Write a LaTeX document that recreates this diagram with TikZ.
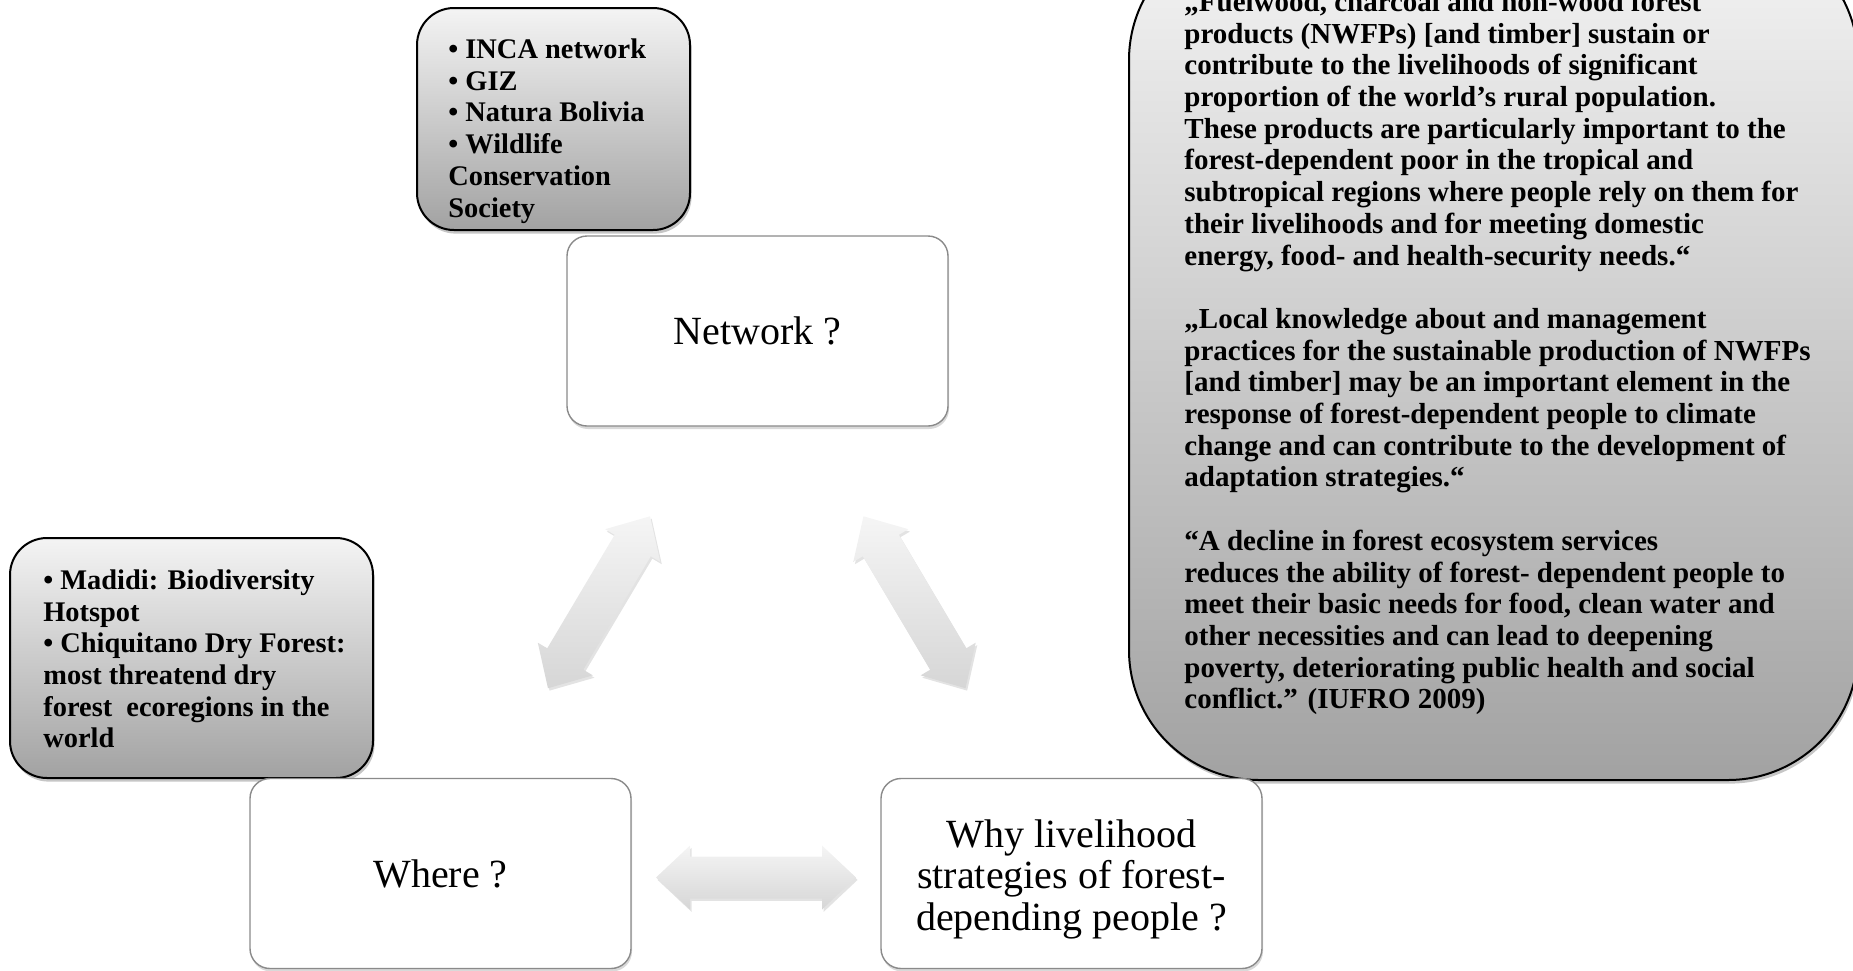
\documentclass[tikz,border=0pt]{standalone}
\usepackage{fontspec}
\setmainfont{Liberation Serif}
\usetikzlibrary{shadows,calc}
\definecolor{cTop}{HTML}{F4F4F4}
\definecolor{cBot}{HTML}{A2A2A2}
\definecolor{aTop}{HTML}{F5F5F5}
\definecolor{aBot}{HTML}{D6D6D6}
\definecolor{boxline}{HTML}{8A8A8A}
\begin{document}
\begin{tikzpicture}[x=0.5pt,y=-0.5pt,
  callout/.style={draw=black, line width=1pt, top color=cTop, bottom color=cBot,
    inner sep=0pt, drop shadow={opacity=0.45, shadow xshift=0.8pt, shadow yshift=-1.8pt}},
  mainbox/.style={draw=boxline, line width=0.7pt, fill=white, rounded corners=10pt,
    minimum width=190.5pt, minimum height=95pt, inner sep=0pt, align=center,
    font=\fontsize{20}{20.75}\selectfont,
    drop shadow={opacity=0.3, shadow xshift=0.5pt, shadow yshift=-1.5pt}},
  callouttext/.style={anchor=west, align=left, inner sep=0pt,
    font=\bfseries\fontsize{14.2}{15.85}\selectfont},
  dblarrow/.style={top color=aTop, bottom color=aBot, draw=none,
    drop shadow={opacity=0.22, shadow xshift=0.8pt, shadow yshift=-1.2pt}}
]
\useasboundingbox (0,0) rectangle (1853,970);

% callout boxes
\node[callout, rounded corners=65pt, minimum width=364.5pt, minimum height=425pt] (quotes) at (1493.5,355) {};
\node[callout, rounded corners=18.5pt, minimum width=136.5pt, minimum height=111pt] (netinfo) at (553.5,119) {};
\node[callout, rounded corners=18.5pt, minimum width=181.5pt, minimum height=120pt] (whereinfo) at (191.5,658) {};

\node[callouttext, font=\bfseries\fontsize{14.5}{15.85}\selectfont] (quotestext) at (1184,353) {„Fuelwood, charcoal and non-wood forest\\
products (NWFPs) [and timber] sustain or\\
contribute to the livelihoods of significant\\
proportion of the world’s rural population.\\
These products are particularly important to the\\
forest-dependent poor in the tropical and\\
subtropical regions where people rely on them for\\
their livelihoods and for meeting domestic\\
energy, food- and health-security needs.“\\
\mbox{}\\
„Local knowledge about and management\\
practices for the sustainable production of NWFPs\\
{[}and timber] may be an important element in the\\
response of forest-dependent people to climate\\
change and can contribute to the development of\\
adaptation strategies.“\\
\mbox{}\\
“A decline in forest ecosystem services\\
reduces the ability of forest- dependent people to\\
meet their basic needs for food, clean water and\\
other necessities and can lead to deepening\\
poverty, deteriorating public health and social\\
conflict.” (IUFRO 2009)};

\node[callouttext] (netinfotext) at (448,131) {• INCA network\\
• GIZ\\
• Natura Bolivia\\
• Wildlife\\
Conservation\\
Society};

\node[callouttext] (whereinfotext) at (43,659) {• Madidi: Biodiversity\\
Hotspot\\
• Chiquitano Dry Forest:\\
most threatend dry\\
forest\ \ ecoregions in the\\
world};

% main boxes
\node[mainbox] (netw) at (757.5,331) {Network ?};
\node[mainbox] (where) at (440.5,873.5) {Where ?};
\node[mainbox] (why) at (1071.5,873.5) {\raisebox{-3.5pt}[\height][\depth]{\begin{tabular}{@{}c@{}}Why livelihood\\strategies of forest-\\depending people ?\end{tabular}}};

% double arrows between the main boxes
\begin{scope}[shift={($(where)!0.5!(netw)$)}, rotate=59.3]
  \path[dblarrow] (100,0) -- (66,32) -- (66,21) -- (-66,21) -- (-66,32) -- (-100,0)
    -- (-66,-32) -- (-66,-21) -- (66,-21) -- (66,-32) -- cycle;
\end{scope}
\begin{scope}[shift={($(why)!0.5!(netw)$)}, rotate=-59.3]
  \path[dblarrow] (100,0) -- (66,32) -- (66,21) -- (-66,21) -- (-66,32) -- (-100,0)
    -- (-66,-32) -- (-66,-21) -- (66,-21) -- (66,-32) -- cycle;
\end{scope}
\begin{scope}[shift={($(where)!0.5!(why)+(0,4)$)}]
  \path[dblarrow] (100,0) -- (66,32) -- (66,21) -- (-66,21) -- (-66,32) -- (-100,0)
    -- (-66,-32) -- (-66,-21) -- (66,-21) -- (66,-32) -- cycle;
\end{scope}
\end{tikzpicture}
\end{document}
